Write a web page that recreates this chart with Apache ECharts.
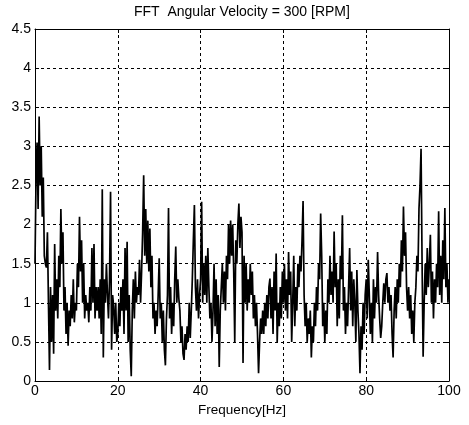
<!DOCTYPE html>
<html>
<head>
<meta charset="utf-8">
<script src="https://cdn.jsdelivr.net/npm/echarts@6/dist/echarts.min.js"></script>
<style>
html,body{margin:0;padding:0;background:#fff;}
#chart{width:469px;height:425px;}
</style>
</head>
<body>
<div id="chart"></div>
<script>
// Chart texts
const chartTitle = 'FFT  Angular Velocity = 300 [RPM]';
const xAxisName = 'Frequency[Hz]';
// Axis ranges / ticks
const xTicks = [0, 20, 40, 60, 80, 100];
const yTicks = [0, 0.5, 1, 1.5, 2, 2.5, 3, 3.5, 4, 4.5];
// Frequency resolution of the spectrum samples (Hz)
const freqStep = 0.25;

// FFT magnitude, 0.25 Hz apart
const amp0to20 = [
  1.5, 2.6, 3.05, 2.2, 3.38, 2.5, 3.0, 2.1, 2.6, 1.6, 1.5, 1.45, 1.9, 1.0, 0.14, 1.2, 0.5, 1.1, 0.35, 1.75,
  0.9, 1.3, 0.8, 1.6, 1.2, 2.2, 1.5, 1.9, 0.9, 1.2, 0.6, 1.0, 0.45, 0.9, 0.7, 1.1, 0.8, 1.3, 0.75, 1.0,
  0.9, 1.5, 1.2, 2.1, 1.4, 1.8, 1.0, 1.5, 0.8, 1.1, 0.9, 1.0, 0.75, 1.2, 0.9, 1.7, 1.0, 1.75, 0.8, 1.2,
  0.9, 1.2, 0.8, 1.3, 0.6, 2.45, 0.3, 1.3, 1.0, 1.5, 1.1, 0.8, 1.3, 2.42, 0.4, 1.1, 0.95, 0.6, 1.0, 0.5
];
const amp20to40 = [
  0.6, 1.0, 0.7, 1.2, 0.9, 1.3, 0.6, 1.7, 0.9, 1.78, 0.5, 1.1, 0.4, 0.06, 0.9, 1.3, 0.8, 1.4, 1.0, 1.2,
  1.1, 1.55, 1.0, 1.4, 1.9, 2.63, 1.6, 2.2, 1.5, 2.05, 1.4, 1.95, 1.2, 1.6, 0.8, 1.0, 0.6, 0.9, 0.7, 1.1,
  1.57, 0.8, 1.0, 0.5, 0.9, 0.4, 0.2, 0.8, 1.1, 2.21, 0.8, 1.2, 0.6, 1.0, 0.7, 1.3, 1.72, 1.0, 1.3, 1.05,
  0.9, 0.5, 0.7, 0.35, 0.27, 0.6, 0.4, 0.7, 0.5, 1.0, 0.55, 0.9, 1.3, 1.8, 2.25, 1.2, 0.9, 1.3, 0.8, 1.1
];
const amp40to60 = [
  1.3, 2.29, 1.0, 1.5, 1.1, 1.6, 1.0, 1.7, 1.2, 0.8, 1.0, 0.5, 0.9, 1.5, 0.7, 1.3, 0.6, 1.1, 0.18, 0.9,
  1.2, 1.5, 1.0, 1.4, 0.9, 1.6, 1.3, 2.0, 1.5, 2.05, 1.6, 2.0, 1.4, 0.5, 1.8, 1.5, 2.0, 2.27, 1.7, 2.1,
  1.9, 0.23, 1.6, 1.0, 1.5, 0.9, 1.3, 1.0, 1.5, 1.1, 1.4, 0.8, 1.1, 0.7, 1.0, 0.6, 0.1, 0.5, 0.8, 0.6,
  0.9, 0.6, 1.0, 0.7, 1.1, 0.8, 1.2, 1.31, 0.8, 1.2, 0.6, 1.4, 0.9, 1.63, 0.5, 1.0, 0.7, 1.2, 0.8, 1.4
];
const amp60to80 = [
  1.0, 1.5, 0.9, 1.3, 0.8, 1.65, 1.1, 1.4, 0.5, 1.0, 1.6, 0.7, 1.2, 0.9, 1.5, 1.2, 1.6, 1.4, 1.8, 2.3,
  1.1, 0.7, 1.0, 0.5, 0.8, 0.6, 0.9, 0.3, 0.7, 0.5, 1.0, 0.7, 1.2, 0.9, 1.5, 1.3, 2.14, 1.6, 0.7, 1.0,
  0.5, 0.9, 0.6, 1.3, 1.0, 1.6, 1.1, 1.4, 1.0, 1.91, 1.2, 1.5, 0.7, 1.3, 0.8, 1.6, 1.3, 2.12, 0.9, 1.2,
  0.6, 1.0, 0.7, 1.2, 1.7, 0.9, 1.4, 0.7, 1.3, 1.0, 0.5, 1.42, 0.9, 0.6, 0.1, 0.7, 0.4, 1.0, 0.6, 1.1
];
const amp80to100 = [
  1.3, 0.8, 1.55, 1.1, 0.6, 1.0, 0.5, 1.3, 0.8, 1.2, 1.0, 1.65, 1.1, 0.8, 0.55, 0.7, 1.0, 1.25, 1.0, 1.3,
  1.38, 1.0, 1.2, 0.9, 1.1, 0.6, 0.3, 0.9, 1.2, 0.8, 1.3, 1.0, 1.5, 1.2, 1.8, 1.4, 2.23, 1.6, 1.9, 1.2,
  0.9, 1.2, 0.8, 1.1, 0.6, 0.9, 0.5, 1.0, 1.2, 1.6, 1.4, 2.2, 2.5, 2.97, 1.5, 0.31, 1.0, 1.5, 1.1, 1.7,
  1.2, 1.5, 1.87, 1.0, 1.4, 0.8, 1.3, 1.0, 1.5, 1.2, 2.17, 1.1, 1.6, 1.0, 1.8, 1.3, 2.21, 1.2, 1.5, 1.0,
  1.3
];

const amplitude = [].concat(amp0to20, amp20to40, amp40to60, amp60to80, amp80to100);
const seriesData = amplitude.map((v, i) => [i * freqStep, v]);

const FONT = '"Liberation Sans", Arial, Helvetica, sans-serif';
const INK = '#000';

const chart = echarts.init(document.getElementById('chart'), null, {renderer: 'canvas'});
chart.setOption({
  animation: false,
  backgroundColor: '#fff',
  title: {
    text: chartTitle,
    left: 134,
    top: 5,
    padding: 0,
    textStyle: {fontFamily: FONT, fontSize: 14, fontWeight: 'normal', color: INK}
  },
  grid: {left: 35, right: 20, top: 29, bottom: 44, containLabel: false},
  xAxis: [{
    type: 'value',
    min: xTicks[0], max: xTicks[xTicks.length - 1], interval: 20,
    name: xAxisName,
    nameLocation: 'middle',
    nameGap: 19,
    nameTextStyle: {fontFamily: FONT, fontSize: 13.5, color: INK},
    axisLine: {show: true, onZero: false, lineStyle: {color: INK, width: 1}},
    axisTick: {show: true, inside: true, length: 4, lineStyle: {color: INK}},
    axisLabel: {fontFamily: FONT, fontSize: 14, color: INK, margin: 3},
    splitLine: {show: true, lineStyle: {color: INK, width: 1, type: [3, 3]}}
  }, {
    type: 'value', position: 'top',
    min: xTicks[0], max: xTicks[xTicks.length - 1], interval: 20,
    axisLine: {show: true, onZero: false, lineStyle: {color: INK, width: 1}},
    axisTick: {show: true, inside: true, length: 4, lineStyle: {color: INK}},
    axisLabel: {show: false},
    splitLine: {show: false}
  }],
  yAxis: [{
    type: 'value',
    min: yTicks[0], max: yTicks[yTicks.length - 1], interval: 0.5,
    axisLine: {show: true, onZero: false, lineStyle: {color: INK, width: 1}},
    axisTick: {show: true, inside: true, length: 4, lineStyle: {color: INK}},
    axisLabel: {fontFamily: FONT, fontSize: 14, color: INK, margin: 4},
    splitLine: {show: true, lineStyle: {color: INK, width: 1, type: [3, 3]}}
  }, {
    type: 'value', position: 'right',
    min: yTicks[0], max: yTicks[yTicks.length - 1], interval: 0.5,
    axisLine: {show: true, onZero: false, lineStyle: {color: INK, width: 1}},
    axisTick: {show: true, inside: true, length: 4, lineStyle: {color: INK}},
    axisLabel: {show: false},
    splitLine: {show: false}
  }],
  series: [{
    type: 'line',
    data: seriesData,
    xAxisIndex: 0, yAxisIndex: 0,
    showSymbol: false,
    symbol: 'none',
    lineStyle: {color: INK, width: 1.7},
    clip: true
  }]
});
</script>
</body>
</html>
